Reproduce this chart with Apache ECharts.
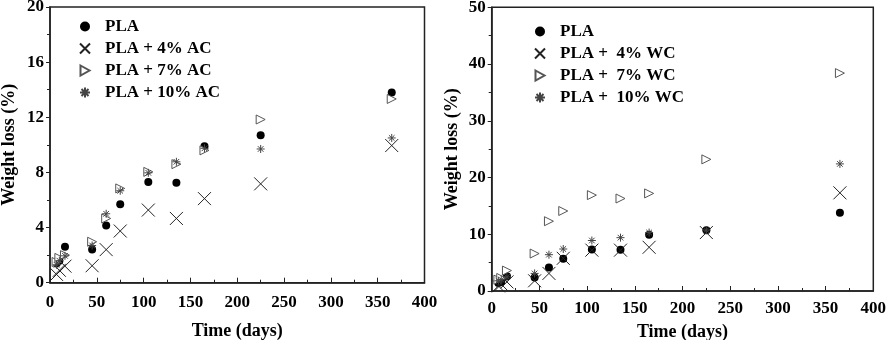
<!DOCTYPE html>
<html>
<head>
<meta charset="utf-8">
<script src="https://cdn.jsdelivr.net/npm/echarts@6/dist/echarts.min.js"></script>
<style>
  html, body { margin: 0; padding: 0; background: #fff; }
  #main { width: 886px; height: 340px; }
</style>
</head>
<body>
<div id="main"></div>
<script>
// sampling days
const days = [7, 10, 16, 45, 60, 75, 105, 135, 165, 225, 365];

// left panel: activated carbon
const plaAC = [1.4, 1.6, 2.6, 2.4, 4.15, 5.7, 7.3, 7.25, 9.9, 10.7, 13.8];
const ac4 = [0.6, 0.9, 1.2, 1.23, 2.4, 3.75, 5.27, 4.66, 6.1, 7.17, 9.95];
const ac7 = [1.5, 1.8, 2.0, 2.97, 4.66, 6.84, 8.04, 8.6, 9.6, 11.84, 13.33];
const ac10 = [1.3, 1.6, 1.95, 2.7, 5.0, 6.67, 7.97, 8.77, 9.75, 9.7, 10.5];

// right panel: wood carbon
const plaWC = [1.4, 1.6, 2.6, 2.4, 4.15, 5.7, 7.3, 7.25, 9.9, 10.7, 13.8];
const wc4 = [0.9, 1.2, 1.6, 1.8, 3.1, 5.76, 7.2, 7.2, 7.7, 10.3, 17.3];
const wc7 = [2.0, 2.3, 3.6, 6.6, 12.3, 14.1, 16.9, 16.3, 17.2, 23.2, 38.4];
const wc10 = [1.8, 2.0, 2.5, 3.1, 6.4, 7.4, 8.9, 9.4, 10.3, 10.75, 22.4];

const namesAC = ['PLA', 'PLA + 4% AC', 'PLA + 7% AC', 'PLA + 10% AC'];
const namesWC = ['PLA ', 'PLA +  4% WC', 'PLA +  7% WC', 'PLA +  10% WC'];

const font = 'Liberation Serif';
const xMark = 'path://M0,0L10,10M10,0L0,10';
const tri = 'path://M0,0L9,5L0,10Z';
const star = 'path://M5,0L5,10M0,5L10,5M1.5,1.5L8.5,8.5M8.5,1.5L1.5,8.5';

const pairs = arr => days.map((d, i) => [d, arr[i]]);

// marker styles shared by both panels
const looks = [
  { symbol: 'circle', symbolSize: 8, itemStyle: { color: '#000', opacity: 1 } },
  { symbol: xMark, symbolSize: 13, itemStyle: { color: 'rgba(0,0,0,0)', borderColor: '#222', borderWidth: 1, opacity: 1 } },
  { symbol: tri, symbolSize: [9, 9], itemStyle: { color: '#fff', borderColor: '#555', borderWidth: 1, opacity: 1 } },
  { symbol: star, symbolSize: 8, itemStyle: { color: 'rgba(0,0,0,0)', borderColor: '#444', borderWidth: 1, opacity: 1 } }
];

const makeSeries = (names, sets, idx) => names.map((n, i) => ({
  name: n,
  type: 'scatter',
  xAxisIndex: idx,
  yAxisIndex: idx,
  data: pairs(sets[i]),
  ...looks[i]
}));

const labelStyle = { fontFamily: font, fontWeight: 'bold', fontSize: 17, color: '#000' };
const nameStyle = { fontFamily: font, fontWeight: 'bold', fontSize: 18, color: '#000' };

const xAxisOf = (idx, margin, nameGap) => ({
  gridIndex: idx,
  type: 'value',
  min: 0, max: 400, interval: 50,
  name: 'Time (days)',
  nameLocation: 'middle',
  nameGap: nameGap,
  nameTextStyle: nameStyle,
  axisLine: { lineStyle: { color: '#222', width: 1.5 } },
  axisTick: { inside: true, length: 5, lineStyle: { color: '#222' } },
  minorTick: { show: true, splitNumber: 2, length: 3, lineStyle: { color: '#222' } },
  axisLabel: { ...labelStyle, margin: margin },
  splitLine: { show: false }
});

const yAxisOf = (idx, max, interval, nameGap) => ({
  gridIndex: idx,
  type: 'value',
  min: 0, max: max, interval: interval,
  name: 'Weight loss (%)',
  nameLocation: 'middle',
  nameRotate: 90,
  nameGap: nameGap,
  nameTextStyle: nameStyle,
  axisLine: { lineStyle: { color: '#222', width: 1.5 } },
  axisTick: { inside: false, length: 4, lineStyle: { color: '#222' } },
  minorTick: { show: true, splitNumber: 2, length: 3, lineStyle: { color: '#222' } },
  axisLabel: { ...labelStyle, margin: 6 },
  splitLine: { show: false }
});

const legendOf = (names, left, top) => ({
  data: names,
  orient: 'vertical',
  left: left,
  top: top,
  itemWidth: 10,
  itemHeight: 10,
  itemGap: 5,
  selectedMode: false,
  textStyle: { ...labelStyle, padding: [0, 0, 0, 10] }
});

const myChart = echarts.init(document.getElementById('main'));
myChart.setOption({
  animation: false,
  grid: [
    { left: 50, top: 7, width: 374.5, height: 275.7, show: true, borderColor: '#222', borderWidth: 1.5, outerBoundsMode: 'none', containLabel: false },
    { left: 491.7, top: 7.3, width: 381.6, height: 283.7, show: true, borderColor: '#222', borderWidth: 1.5, outerBoundsMode: 'none', containLabel: false }
  ],
  legend: [
    legendOf(namesAC, 74, 13),
    legendOf(namesWC, 529, 18)
  ],
  xAxis: [xAxisOf(0, 11, 40), xAxisOf(1, 9, 32)],
  yAxis: [yAxisOf(0, 20, 4, 32), yAxisOf(1, 50, 10, 30)],
  series: [
    ...makeSeries(namesAC, [plaAC, ac4, ac7, ac10], 0),
    ...makeSeries(namesWC, [plaWC, wc4, wc7, wc10], 1)
  ]
});

window.addEventListener('resize', () => { myChart.resize(); });
</script>
</body>
</html>
